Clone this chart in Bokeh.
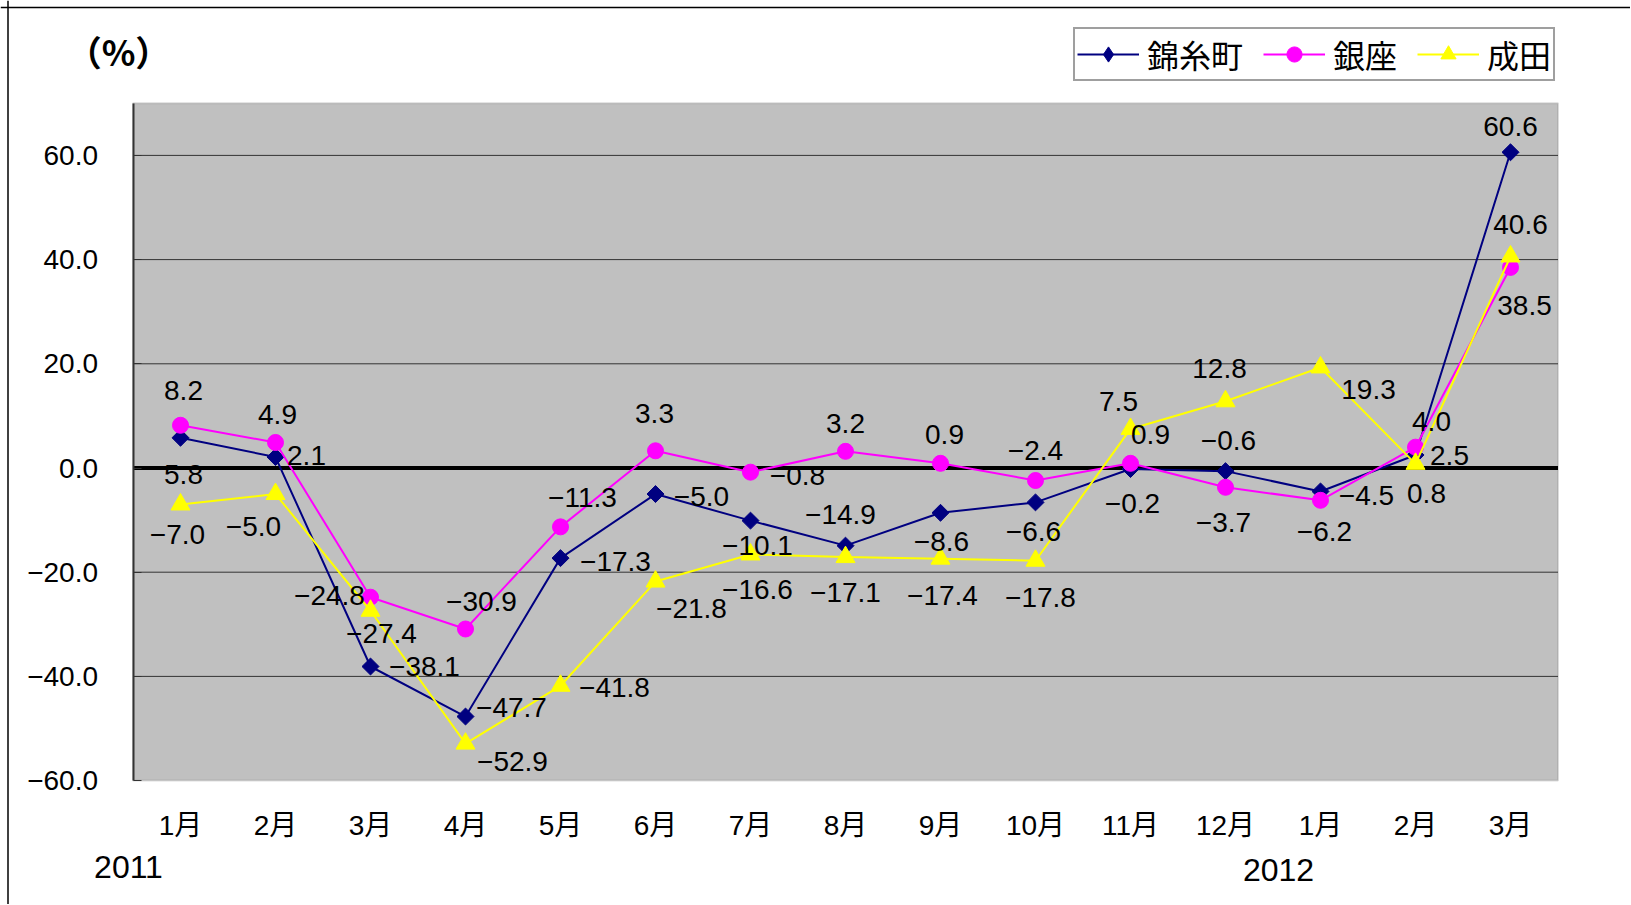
import math
from bokeh.plotting import figure
from bokeh.models import (ColumnDataSource, Legend, LegendItem, Span, Label,
                          FixedTicker, Range1d, BoxAnnotation)
from bokeh.core.properties import value
from bokeh.embed import file_html
from bokeh.resources import INLINE

# ---------------- data ----------------
months = ["1月", "2月", "3月", "4月", "5月", "6月", "7月", "8月", "9月", "10月",
          "11月", "12月", "1月", "2月", "3月"]
year_labels = ["2011", "2012"]
series_names = ["錦糸町", "銀座", "成田"]
kinshicho = [5.8, 2.1, -38.1, -47.7, -17.3, -5.0, -10.1, -14.9, -8.6, -6.6,
             -0.2, -0.6, -4.5, 2.5, 60.6]
ginza = [8.2, 4.9, -24.8, -30.9, -11.3, 3.3, -0.8, 3.2, 0.9, -2.4,
         0.9, -3.7, -6.2, 4.0, 38.5]
narita = [-7.0, -5.0, -27.4, -52.9, -41.8, -21.8, -16.6, -17.1, -17.4, -17.8,
          7.5, 12.8, 19.3, 0.8, 40.6]
y_ticks = [-60, -40, -20, 0, 20, 40, 60]
y_tick_labels = ["−60.0", "−40.0", "−20.0", "0.0", "20.0", "40.0", "60.0"]
unit_label = "（%）"
Y_MIN, Y_MAX = -60, 70

# ---------------- label offsets (screen px, +y = down) ----------------
off_k = [(3, 37), (31, -2), (54, 0), (46, -9), (55, 3), (46, 2), (7, 25), (-5, -31),
         (1, 29), (-2, 29), (2, 34), (3, -31), (46, 4), (34, 1), (0, -26)]
off_g = [(3, -35), (2, -28), (-41, -2), (16, -27), (22, -29), (-1, -37), (47, 3), (0, -28),
         (4, -29), (0, -30), (20, -29), (-2, 35), (4, 31), (16, -26), (14, 38)]
off_n = [(-3, 30), (-22, 32), (11, 23), (47, 18), (54, 2), (36, 27), (7, 35), (0, 35),
         (2, 37), (5, 37), (-12, -27), (-6, -33), (48, 22), (11, 30), (10, -32)]

FONT = "'Liberation Sans', 'Noto Sans CJK JP', sans-serif"

# ---------------- layout geometry (canvas pixels) ----------------
W, H = 1630, 904
X0_PX, X_STEP = 180.0, 95.0          # pixel of first category, pixels per category
Y0_PX, Y_STEP = 467.5, 5.21          # pixel of value 0, pixels per unit


def px_x(px):
    return (px - X0_PX) / X_STEP


def px_y(py):
    return (Y0_PX - py) / Y_STEP


p = figure(width=W, height=H, output_backend="svg", toolbar_location=None,
           x_range=Range1d(px_x(0), px_x(W)), y_range=Range1d(px_y(H), px_y(0)),
           min_border=0, min_border_left=0, min_border_right=0,
           min_border_top=0, min_border_bottom=0)
p.background_fill_color = "white"
p.border_fill_color = "white"
p.outline_line_color = None
p.xgrid.grid_line_color = None
p.ygrid.grid_line_color = None

n = len(months)
xs = list(range(n))

# gray plot area
p.add_layout(BoxAnnotation(left=-0.5, right=n - 0.5, bottom=Y_MIN, top=Y_MAX,
                           fill_color="#C0C0C0", fill_alpha=1.0,
                           line_color="#8C8C8C", line_width=2, level="underlay"))
# horizontal grid lines
grid_y = [t for t in y_ticks if t not in (0, Y_MIN)]
p.segment(x0=[-0.5] * len(grid_y), x1=[n - 0.5] * len(grid_y), y0=grid_y, y1=grid_y,
          line_color="#333333", line_width=1)
# zero line
p.segment(x0=[-0.5], x1=[n - 0.5], y0=[0], y1=[0], line_color="black", line_width=4)

# outer picture border (left and top)
p.add_layout(Span(location=px_x(7.5), dimension="height", line_color="black", line_width=1.5))
p.add_layout(Span(location=px_y(7.0), dimension="width", line_color="black", line_width=1.5))

# axes drawn at the edges of the gray area
p.xaxis.fixed_location = Y_MIN
p.xaxis.bounds = (-0.5, n - 0.5)
p.xaxis.ticker = FixedTicker(ticks=xs)
p.xaxis.major_label_overrides = {i: m for i, m in enumerate(months)}
p.xaxis.axis_line_color = None
p.xaxis.major_tick_line_color = None
p.xaxis.minor_tick_line_color = None
p.xaxis.major_label_standoff = 23
p.xaxis.major_label_text_font = FONT
p.xaxis.major_label_text_font_size = "28px"
p.xaxis.major_label_text_color = "black"

p.yaxis.fixed_location = -0.5
p.yaxis.bounds = (Y_MIN, Y_MAX)
p.yaxis.ticker = FixedTicker(ticks=y_ticks)
p.yaxis.major_label_overrides = {t: s for t, s in zip(y_ticks, y_tick_labels)}
p.yaxis.axis_line_color = "#333333"
p.yaxis.axis_line_width = 2
p.yaxis.major_tick_in = 8
p.yaxis.major_tick_out = 0
p.yaxis.major_tick_line_color = "#333333"
p.yaxis.minor_tick_line_color = None
p.yaxis.major_label_standoff = 35
p.yaxis.major_label_text_font = FONT
p.yaxis.major_label_text_font_size = "28px"
p.yaxis.major_label_text_color = "black"

# (data marker, data size, angle, legend marker)
specs = [
    (kinshicho, "#000080", "square", 12, math.pi / 4, "diamond", off_k),
    (ginza, "#FF00FF", "circle", 16, 0.0, "circle", off_g),
    (narita, "#FFFF00", "triangle", 19, 0.0, "triangle", off_n),
]
nan = float("nan")
items = []
label_sources = []
for (vals, color, marker, size, ang, lmarker, offs), name in zip(specs, series_names):
    src = ColumnDataSource(dict(x=xs, y=vals))
    lr = p.line("x", "y", source=src, line_color=color, line_width=2)
    p.scatter("x", "y", source=src, marker=marker, size=size, angle=ang,
              fill_color=color, line_color=color)
    # marker used only for the legend swatch (a single empty point, draws nothing)
    key = p.scatter(x=[nan], y=[nan], marker=lmarker, size=size,
                    fill_color=color, line_color=color)
    items.append(LegendItem(label=name, renderers=[lr, key]))
    label_sources.append(ColumnDataSource(dict(
        x=xs, y=vals,
        text=[f"{v:.1f}".replace("-", "−") for v in vals],
        dx=[o[0] for o in offs], dy=[o[1] for o in offs])))

for ls in label_sources:
    p.text("x", "y", text="text", source=ls, x_offset="dx", y_offset="dy",
           text_align="center", text_baseline="middle",
           text_font=value(FONT), text_font_size="28px", text_color="black")

# legend: bottom-left corner given relative to the frame's bottom-left
legend = Legend(items=items, orientation="horizontal", location=(1073, H - 81),
                label_text_font=FONT, label_text_font_size="32px",
                label_text_color="black", label_text_line_height=0.9,
                glyph_width=62, glyph_height=38, label_standoff=8, spacing=20,
                padding=2, margin=0, border_line_color="#404040",
                border_line_width=2, background_fill_color="white",
                background_fill_alpha=1.0, label_height=20)
p.add_layout(legend, "center")

p.add_layout(Label(x=px_x(128), y=px_y(866), text=year_labels[0], text_align="center",
                   text_baseline="middle", text_font="Liberation Sans",
                   text_font_size="32px", text_color="black"))
p.add_layout(Label(x=px_x(1278), y=px_y(869), text=year_labels[1], text_align="center",
                   text_baseline="middle", text_font="Liberation Sans",
                   text_font_size="32px", text_color="black"))
p.add_layout(Label(x=px_x(118), y=px_y(50), text=unit_label, text_align="center",
                   text_baseline="middle", text_font="Noto Sans CJK JP",
                   text_font_size="35px", text_font_style="bold", text_color="black"))

open("out.html", "w").write(file_html(p, INLINE))
